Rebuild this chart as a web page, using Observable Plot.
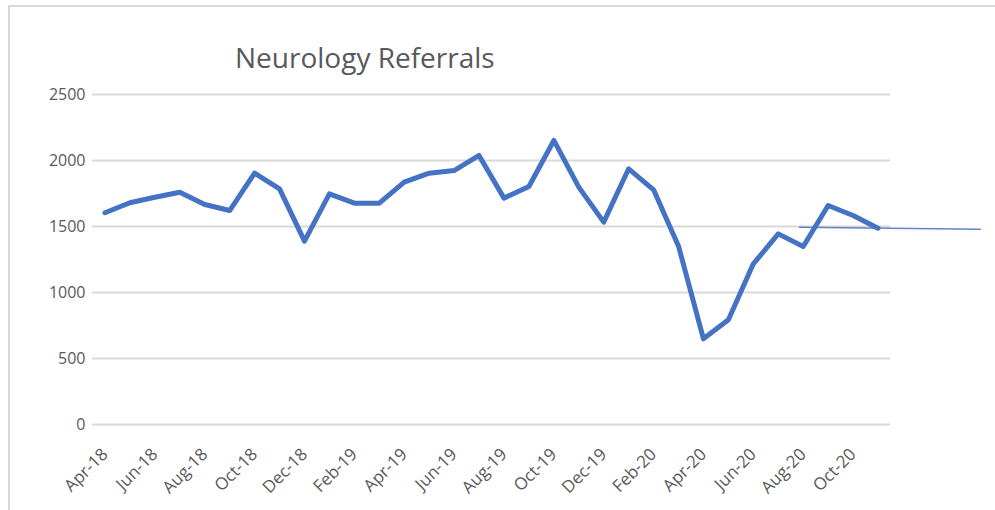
<!DOCTYPE html>
<html><head><meta charset="utf-8">
<script src="https://cdn.jsdelivr.net/npm/d3@7"></script>
<script src="https://cdn.jsdelivr.net/npm/@observablehq/plot@0.6"></script>
<style>
body{margin:0;background:#fff;}
#wrap{position:relative;width:995px;height:510px;overflow:hidden;background:#fff;}
#frame{position:absolute;left:8px;top:5px;right:-10px;bottom:-10px;border-top:2px solid #d9d9d9;border-left:2px solid #d9d9d9;}
#title{position:absolute;left:235px;top:38px;font-family:"Open Sans";font-size:28px;color:#595959;white-space:nowrap;}
#chart{position:absolute;left:0;top:0;}
</style></head><body>
<div id="wrap"><div id="frame"></div><div id="chart"></div><div id="title">Neurology Referrals</div></div>
<script>
const months = ["Apr-18","May-18","Jun-18","Jul-18","Aug-18","Sep-18","Oct-18","Nov-18","Dec-18",
  "Jan-19","Feb-19","Mar-19","Apr-19","May-19","Jun-19","Jul-19","Aug-19","Sep-19","Oct-19","Nov-19","Dec-19",
  "Jan-20","Feb-20","Mar-20","Apr-20","May-20","Jun-20","Jul-20","Aug-20","Sep-20","Oct-20","Nov-20"];
const referrals = [1604,1680,1722,1760,1667,1621,1904,1785,1389,
  1747,1677,1677,1836,1904,1924,2038,1715,1803,2152,1798,1533,
  1937,1778,1351,649,793,1217,1444,1348,1659,1583,1487];
const yTicks = [0,500,1000,1500,2000,2500];
// thin trend/forecast line, positions in month-index units
const trendMonthIndex = [27.85, 35.1];
const trendValues = [1495, 1480];

const data = months.map((m,i)=>({i, v: referrals[i]}));
const trend = trendMonthIndex.map((t,k)=>({i:t, v:trendValues[k]}));

const chart = Plot.plot({
  width: 995, height: 510,
  marginLeft: 92, marginRight: 105, marginTop: 94, marginBottom: 86,
  x: {type: "linear", domain: [-0.5, months.length - 0.5]},
  y: {domain: [0, 2500]},
  style: {fontFamily: "Open Sans", fontSize: "16px", color: "#595959", background: "transparent", overflow: "visible"},
  marks: [
    Plot.ruleY(yTicks, {stroke: "#d9d9d9", strokeWidth: 2}),
    Plot.axisY({ticks: yTicks, tickFormat: d => String(d), tickSize: 0, tickPadding: 7, label: null, fontSize: 16}),
    Plot.axisX({ticks: d3.range(0, months.length, 2), tickFormat: i => months[i], tickSize: 0, tickRotate: -45, tickPadding: 27, label: null, fontSize: 17}),
    Plot.line(trend, {x: "i", y: "v", stroke: "#4472C4", strokeWidth: 1.5, strokeOpacity: 0.85, clip: false}),
    Plot.line(data, {x: "i", y: "v", stroke: "#4472C4", strokeWidth: 5})
  ]
});
document.getElementById("chart").appendChild(chart);
</script>
</body></html>
